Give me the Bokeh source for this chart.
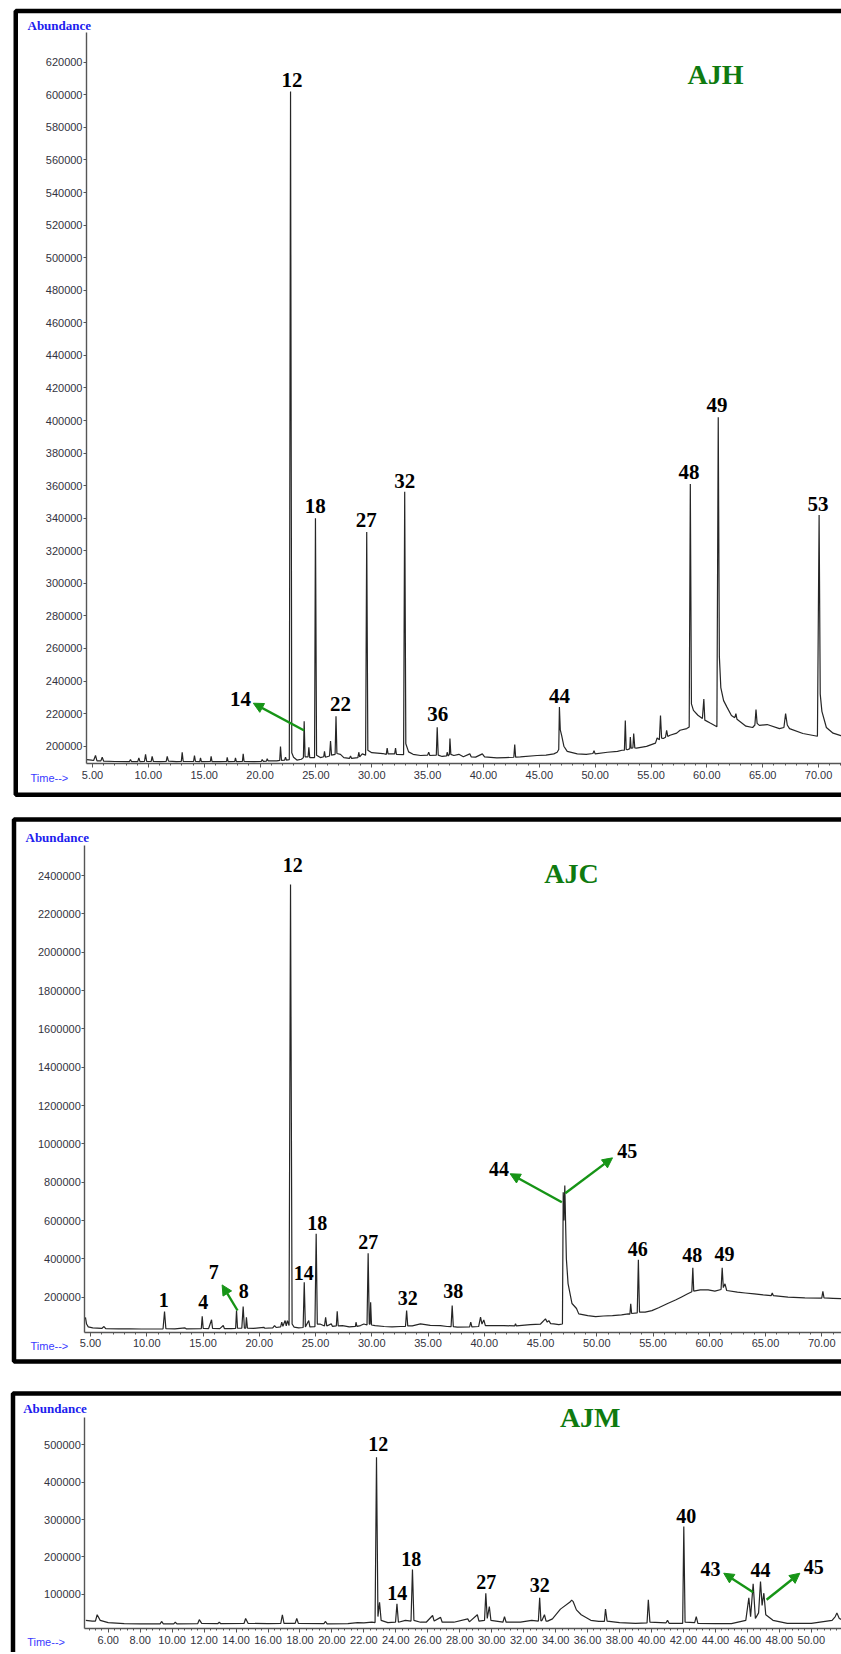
from bokeh.plotting import figure
from bokeh.layouts import column
from bokeh.models import (LinearAxis, FixedTicker, SingleIntervalTicker, PrintfTickFormatter,
                          NumeralTickFormatter, Range1d, Label, Arrow, NormalHead)
from bokeh.core.properties import value
from bokeh.embed import file_html
from bokeh.resources import INLINE

# ---------------------------------------------------------------- data: AJH
ajh_time = [4.50, 4.90, 5.10, 5.27, 5.40, 5.75, 5.87, 6.00, 7.00, 8.30, 8.40, 8.50, 9.05, 9.15, 9.25,
            9.65, 9.75, 9.85, 10.25, 10.34, 10.45, 11.10, 11.60, 11.69, 11.80, 12.50, 12.95, 13.03,
            13.12, 14.05, 14.13, 14.22, 14.60, 14.67, 14.75, 15.55, 15.62, 15.70, 16.40, 17.00, 17.06,
            17.14, 17.73, 17.80, 17.88, 18.42, 18.49, 18.57, 19.40, 20.12, 20.19, 20.30, 20.57, 20.64,
            20.72, 21.50, 21.76, 21.83, 21.92, 22.20, 22.28, 22.36, 22.62, 22.73, 22.84, 23.00, 23.30,
            23.70, 23.88, 23.95, 24.03, 24.30, 24.37, 24.45, 24.88, 24.96, 25.06, 25.40, 25.70, 25.77,
            25.85, 26.22, 26.31, 26.40, 26.72, 26.80, 26.88, 27.20, 27.50, 28.00, 28.10, 28.20, 28.76,
            28.84, 28.92, 29.15, 29.45, 29.55, 29.65, 30.00, 30.50, 31.00, 31.30, 31.38, 31.46, 32.05,
            32.13, 32.21, 32.85, 32.95, 33.05, 33.30, 33.70, 34.37, 35.00, 35.10, 35.20, 35.78, 35.86,
            35.95, 36.30, 36.70, 36.75, 36.85, 36.95, 37.00, 37.08, 37.35, 37.80, 38.20, 38.78, 38.90,
            39.30, 39.90, 40.10, 41.20, 42.00, 42.72, 42.80, 42.88, 43.30, 44.80, 45.60, 46.30, 46.60,
            46.74, 46.80, 46.88, 47.00, 47.20, 47.50, 48.40, 49.20, 49.80, 49.90, 50.00, 51.10, 52.00,
            52.40, 52.62, 52.70, 52.78, 52.90, 53.10, 53.15, 53.22, 53.38, 53.45, 53.55, 53.70, 54.60,
            55.40, 55.55, 55.75, 55.85, 55.95, 56.10, 56.30, 56.40, 56.50, 56.70, 57.30, 57.60, 58.20,
            58.42, 58.52, 58.62, 58.80, 59.20, 59.60, 59.73, 59.82, 60.30, 60.90, 61.02, 61.12, 61.25,
            61.50, 61.80, 62.20, 62.50, 62.60, 62.70, 63.50, 64.10, 64.30, 64.40, 64.50, 64.70, 65.40,
            66.50, 66.90, 67.05, 67.20, 67.40, 68.60, 69.90, 70.05, 70.15, 70.30, 70.70, 71.30, 72.00,
            72.80]
ajh_abund = [191800, 191500, 191200, 194300, 191000, 191000, 193200, 190800, 190600, 190500, 191800,
             190500, 190500, 192800, 190500, 190600, 195000, 190700, 190600, 193700, 190600, 190500,
             190700, 193700, 190800, 190500, 190600, 196300, 190600, 190700, 194300, 190600, 190500,
             192800, 190500, 190600, 193700, 190500, 190500, 190600, 193200, 190500, 190600, 192800,
             190500, 190600, 195300, 190600, 190500, 190700, 191800, 190700, 190800, 192300, 191000,
             191000, 191300, 199800, 191300, 191500, 193200, 191500, 191800, 602000, 196000, 193200,
             191500, 192000, 193000, 215300, 193500, 193500, 199400, 193000, 193000, 340000, 194500,
             193000, 193500, 196800, 193200, 194000, 203100, 194500, 195000, 218400, 195500, 195000,
             193000, 192500, 194000, 192500, 193000, 196300, 193500, 195300, 194500, 331600, 197500,
             196000, 195800, 195500, 195000, 198800, 195300, 195300, 198800, 195000, 194800, 356200,
             201500, 196500, 195000, 194300, 194500, 196300, 194300, 194500, 211700, 194500, 193700,
             194000, 196300, 194000, 195000, 204700, 195000, 194300, 195000, 193500, 195300, 193500,
             193300, 195300, 193500, 192800, 193000, 193200, 201000, 193300, 193500, 194300, 194500,
             195300, 196300, 198000, 224000, 210000, 206700, 200000, 196800, 195300, 195000, 195500,
             197300, 195300, 196300, 196800, 197500, 197500, 215800, 198000, 197800, 198500, 205700,
             198800, 199000, 207800, 199000, 198800, 199900, 201900, 205000, 204000, 218900, 205000,
             204700, 205500, 209800, 206000, 206700, 208000, 209800, 210800, 211800, 361000, 226000,
             222000, 219000, 217000, 228900, 216000, 214200, 212000, 402000, 255000, 236000, 228000,
             224000, 218900, 217500, 220000, 216500, 212300, 211500, 213000, 222500, 214000, 212800,
             213300, 210800, 211500, 220000, 213000, 210800, 207800, 206100, 342000, 232000, 221400,
             211500, 208000, 206500, 205500]
ajh_labels = ["12", "14", "18", "22", "27", "32", "36", "44", "48", "49", "53"]
ajh_label_time = [22.86, 18.25, 24.95, 27.20, 29.50, 32.95, 35.90, 46.80, 58.40, 60.90, 69.95]
ajh_label_abund = [609000, 228700, 347500, 226200, 339000, 363000, 220000, 231100, 368500, 409400, 349000]
ajh_arrows = [(23.95, 209600, 19.40, 226400)]
ajh_yticks = [200000, 220000, 240000, 260000, 280000, 300000, 320000, 340000, 360000, 380000, 400000,
              420000, 440000, 460000, 480000, 500000, 520000, 540000, 560000, 580000, 600000, 620000]

# ---------------------------------------------------------------- data: AJC
ajc_time = [4.55, 4.65, 4.80, 5.20, 6.00, 6.20, 6.35, 7.50, 8.50, 9.50, 10.50, 11.45, 11.58, 11.70,
            12.50, 13.40, 13.50, 14.85, 14.93, 15.02, 15.50, 15.76, 15.85, 16.50, 16.80, 16.90, 17.50,
            17.90, 17.98, 18.07, 18.45, 18.57, 18.68, 18.80, 18.86, 18.95, 19.50, 20.40, 20.50, 21.20,
            21.36, 21.50, 21.90, 22.00, 22.10, 22.30, 22.40, 22.50, 22.65, 22.78, 22.92, 23.10, 23.50,
            23.90, 24.00, 24.10, 24.40, 24.50, 24.95, 25.06, 25.16, 25.40, 25.80, 25.90, 26.00, 26.40,
            26.50, 26.85, 26.93, 27.02, 27.40, 28.00, 28.55, 28.60, 28.68, 29.00, 29.30, 29.58, 29.68,
            29.78, 29.85, 29.90, 29.98, 30.30, 31.10, 31.80, 32.55, 33.00, 33.10, 33.20, 33.60, 34.33,
            35.20, 36.10, 36.70, 37.05, 37.15, 37.25, 37.60, 38.70, 38.80, 38.90, 39.50, 39.67, 39.80,
            39.96, 40.10, 40.56, 41.74, 42.70, 42.78, 42.86, 44.10, 45.00, 45.44, 45.60, 45.74, 45.90,
            46.18, 46.63, 46.95, 47.02, 47.09, 47.16, 47.30, 47.45, 47.80, 48.20, 48.40, 49.20, 49.90,
            50.60, 51.40, 52.20, 52.80, 52.95, 53.02, 53.10, 53.60, 53.70, 53.80, 54.30, 54.90, 55.50,
            56.30, 57.00, 57.50, 58.00, 58.45, 58.54, 58.62, 59.20, 59.90, 60.50, 61.05, 61.15, 61.25,
            61.40, 61.55, 62.50, 63.20, 64.00, 64.80, 65.50, 65.60, 65.70, 67.00, 68.50, 70.00, 70.10,
            70.20, 71.00, 71.80, 72.80]
ajc_abund = [95000, 60000, 45000, 40000, 37000, 47000, 36000, 35000, 34500, 34000, 34000, 35000,
             125000, 36000, 35000, 40000, 35000, 36000, 100000, 37000, 36500, 82000, 37000, 36000,
             52000, 36500, 36000, 37000, 130000, 38000, 38000, 151000, 38000, 39000, 95600, 39000,
             37000, 43000, 38000, 40000, 52000, 42000, 45000, 69500, 48000, 78000, 50000, 78000, 52000,
             2353000, 60000, 43500, 40000, 42000, 278000, 45000, 78000, 45000, 46000, 531000, 60000,
             60000, 50000, 95600, 50000, 61000, 48000, 50000, 127000, 50000, 52000, 45000, 48000, 69500,
             48000, 52000, 60000, 55000, 429600, 60000, 60000, 174000, 55000, 52000, 47000, 45000, 47000,
             48000, 130000, 50000, 50000, 61000, 52600, 52000, 47000, 46000, 157000, 46000, 43500, 45000,
             69500, 45000, 47000, 95600, 60000, 81700, 52000, 52000, 52000, 50000, 61000, 50000, 57000,
             60000, 87000, 70000, 78000, 62000, 61000, 57000, 60000, 748000, 600000, 783000, 400000,
             271000, 167000, 141000, 113000, 104000, 99000, 102000, 104000, 108000, 113000, 112000,
             165000, 115000, 118000, 395000, 122000, 122000, 130000, 145000, 167000, 185000, 200000,
             215000, 228000, 353000, 232000, 238000, 238000, 232000, 240000, 353000, 250000, 270000,
             235000, 226000, 222000, 217000, 212000, 208000, 222000, 208000, 200000, 196000, 195000,
             231000, 196000, 194000, 192000, 191000]
ajc_labels = ["12", "1", "4", "7", "8", "14", "18", "27", "32", "38", "44", "45", "46", "48", "49"]
ajc_label_time = [22.98, 11.52, 15.02, 15.96, 18.63, 23.96, 25.15, 29.68, 33.20, 37.24, 41.30, 52.70,
                  53.65, 58.48, 61.36]
ajc_label_abund = [2452600, 186400, 174000, 330400, 231300, 325200, 586100, 487000, 197000, 231000,
                   870000, 965400, 448900, 422800, 426400]
ajc_arrows = [(18.07, 130600, 16.70, 264000), (46.90, 695700, 42.30, 844000),
              (47.20, 742600, 51.40, 927000)]
ajc_yticks = [200000, 400000, 600000, 800000, 1000000, 1200000, 1400000, 1600000, 1800000, 2000000,
              2200000, 2400000]

# ---------------------------------------------------------------- data: AJM
ajm_time = [4.60, 5.00, 5.20, 5.31, 5.50, 6.00, 7.00, 8.00, 9.25, 9.34, 9.45, 10.10, 10.20, 10.30,
            11.60, 11.70, 11.85, 12.85, 12.95, 13.05, 14.50, 14.60, 14.75, 16.00, 16.80, 16.90, 17.00,
            17.70, 17.80, 17.90, 19.50, 19.60, 19.70, 21.00, 21.60, 22.00, 22.50, 22.70, 22.79, 22.88,
            22.98, 23.08, 23.50, 23.98, 24.07, 24.16, 24.60, 24.95, 25.04, 25.13, 25.54, 25.90, 26.30,
            26.40, 26.80, 26.90, 27.63, 28.50, 28.60, 29.10, 29.20, 29.55, 29.63, 29.72, 29.85, 29.95,
            30.70, 30.80, 30.90, 31.80, 32.50, 32.92, 33.00, 33.08, 33.15, 33.30, 33.40, 33.50, 33.80,
            34.30, 34.90, 35.00, 35.10, 35.30, 35.60, 36.20, 36.70, 37.05, 37.12, 37.22, 38.00, 39.00,
            39.72, 39.80, 39.90, 40.90, 41.00, 41.10, 41.95, 42.02, 42.10, 42.70, 42.80, 42.90, 44.00,
            45.00, 45.90, 46.09, 46.20, 46.36, 46.50, 46.70, 46.82, 46.92, 47.03, 47.15, 47.60, 48.50,
            50.00, 51.30, 51.50, 51.60, 51.75, 52.00, 52.40]
ajm_abund = [30000, 28000, 28000, 45000, 30000, 24000, 21000, 20500, 20500, 27000, 20500, 20500, 25000,
             20500, 21000, 32000, 22000, 21000, 25000, 21000, 21500, 35000, 22000, 21000, 22000, 45000,
             22000, 22000, 35000, 22000, 21000, 27000, 20500, 21000, 24000, 23000, 25000, 24000, 466800,
             40000, 78600, 30000, 24000, 25000, 74300, 25000, 30000, 28000, 166000, 30000, 25000, 25000,
             43000, 28000, 38000, 25000, 25000, 34000, 26000, 45000, 28000, 30000, 102700, 35000, 67000,
             30000, 25000, 40000, 25000, 25000, 30000, 28000, 90300, 28000, 30000, 45000, 28000, 28000,
             34000, 60000, 79000, 84000, 80000, 58000, 45000, 30000, 27000, 27000, 60000, 28000, 24000,
             22000, 23000, 85000, 25000, 23000, 30000, 22000, 22000, 281000, 25000, 24000, 40000, 22000,
             21000, 21000, 30000, 90300, 40000, 127800, 35000, 50000, 134000, 70000, 102700, 45000,
             30000, 22000, 22000, 30000, 40000, 50000, 35000, 30000, 29000]
ajm_labels = ["12", "14", "18", "27", "32", "40", "43", "44", "45"]
ajm_label_time = [22.90, 24.09, 24.96, 29.65, 33.00, 42.17, 43.69, 46.82, 50.15]
ajm_label_abund = [502700, 102700, 194800, 132100, 123300, 310700, 168000, 165300, 172300]
ajm_arrows = [(46.36, 105400, 44.52, 156200), (47.20, 85000, 49.28, 156200)]
ajm_yticks = [100000, 200000, 300000, 400000, 500000]

# ---------------------------------------------------------------- layout (page pixels, page starts at 0,0)
W = 841
GREEN_TXT = "#0f7a0f"
GREEN_ARR = "#169416"
SERIF = "Liberation Serif"
SANS = "Liberation Sans"

panels = [
    dict(title="AJH", top=0, height=806, x0=92.0, t0=5.0, sx=11.17, y0=745.7, v0=200000, sy=32.57 / 20000,
         bx=15.25, btop=10.5, bbot=794.3, yaxis_x=86.0, yaxis_top=32.0, xaxis_y=763.3,
         abund_xy=(27, 25), time_xy=(30, 777.5), title_xy=(715, 74.2), label_size="21px",
         xint=5, time=ajh_time, abund=ajh_abund, labels=ajh_labels, lt=ajh_label_time,
         lv=ajh_label_abund, arrows=ajh_arrows, yticks=ajh_yticks),
    dict(title="AJC", top=806, height=570, x0=90.0, t0=5.0, sx=11.25, y0=1296.7, v0=200000, sy=38.33 / 200000,
         bx=13.5, btop=819.0, bbot=1361.0, yaxis_x=84.3, yaxis_top=845.0, xaxis_y=1331.7,
         abund_xy=(25, 837), time_xy=(30, 1345), title_xy=(571, 873), label_size="20px",
         xint=5, time=ajc_time, abund=ajc_abund, labels=ajc_labels, lt=ajc_label_time,
         lv=ajc_label_abund, arrows=ajc_arrows, yticks=ajc_yticks),
    dict(title="AJM", top=1376, height=276, x0=107.7, t0=6.0, sx=15.98, y0=1593.7, v0=100000, sy=37.35 / 100000,
         bx=12.5, btop=1393.0, bbot=1700.0, yaxis_x=84.3, yaxis_top=1417.3, xaxis_y=1628.3,
         abund_xy=(22.7, 1407.7), time_xy=(26.7, 1641), title_xy=(589.7, 1416.7), label_size="20px",
         xint=2, time=ajm_time, abund=ajm_abund, labels=ajm_labels, lt=ajm_label_time,
         lv=ajm_label_abund, arrows=ajm_arrows, yticks=ajm_yticks),
]


def make_panel(c):
    def tx(xp):
        return c["t0"] + (xp - c["x0"]) / c["sx"]

    def vy(yp):
        return c["v0"] + (c["y0"] - yp) / c["sy"]

    H = c["height"]
    p = figure(width=W, height=H, x_range=Range1d(tx(0), tx(W)),
               y_range=Range1d(vy(c["top"] + H), vy(c["top"])),
               x_axis_location=None, y_axis_location=None, toolbar_location=None,
               output_backend="svg", min_border=0, outline_line_color=None,
               background_fill_color="white", border_fill_color="white")
    p.grid.visible = False

    # thick panel frame (right side is cut off like the source)
    p.quad(left=[tx(c["bx"])], right=[tx(900)], top=[vy(c["btop"])], bottom=[vy(c["bbot"])],
           fill_color=None, line_color="black", line_width=4.5)

    yax = LinearAxis(fixed_location=tx(c["yaxis_x"]), bounds=(vy(c["xaxis_y"]), vy(c["yaxis_top"])),
                     ticker=FixedTicker(ticks=c["yticks"], minor_ticks=[]),
                     formatter=NumeralTickFormatter(format="0"),
                     axis_line_color="#555555", axis_line_width=1.4,
                     major_tick_line_color="#555555", major_tick_in=0, major_tick_out=3,
                     minor_tick_line_color=None, major_label_standoff=1,
                     major_label_text_font=SANS, major_label_text_font_size="11px",
                     major_label_text_color="#333340")
    p.add_layout(yax, "left")

    xax = LinearAxis(fixed_location=vy(c["xaxis_y"]), bounds=(tx(c["yaxis_x"]), tx(900)),
                     ticker=SingleIntervalTicker(interval=c["xint"], num_minor_ticks=5),
                     formatter=PrintfTickFormatter(format="%.2f"),
                     axis_line_color="#555555", axis_line_width=1.4,
                     major_tick_line_color="#555555", major_tick_in=0, major_tick_out=4,
                     minor_tick_line_color="#555555", minor_tick_in=0, minor_tick_out=2,
                     major_label_standoff=3, major_label_text_font=SANS,
                     major_label_text_font_size="11px", major_label_text_color="#333340")
    p.add_layout(xax, "below")

    p.line(c["time"], c["abund"], line_color="#262626", line_width=1.2)

    p.text(x=c["lt"], y=c["lv"], text=c["labels"], text_font=value(SERIF), text_font_style="bold",
           text_font_size=c["label_size"], text_align="center", text_baseline="middle",
           text_color="black")

    for (x0, y0, x1, y1) in c["arrows"]:
        p.add_layout(Arrow(end=NormalHead(size=10, fill_color=GREEN_ARR, line_color=GREEN_ARR),
                           x_start=x0, y_start=y0, x_end=x1, y_end=y1,
                           line_color=GREEN_ARR, line_width=2.4))

    ax, ay = c["abund_xy"]
    p.add_layout(Label(x=tx(ax), y=vy(ay), text="Abundance", text_font=SERIF, text_font_style="bold",
                       text_font_size="13px", text_color="#2020ee", text_align="left",
                       text_baseline="middle"))
    tx_, ty_ = c["time_xy"]
    p.add_layout(Label(x=tx(tx_), y=vy(ty_), text="Time-->", text_font=SANS,
                       text_font_size="11px", text_color="#3a3aff", text_align="left",
                       text_baseline="middle"))
    hx, hy = c["title_xy"]
    p.add_layout(Label(x=tx(hx), y=vy(hy), text=c["title"], text_font=SERIF, text_font_style="bold",
                       text_font_size="28px", text_color=GREEN_TXT, text_align="center",
                       text_baseline="middle"))
    return p


figs = [make_panel(c) for c in panels]
layout = column(*figs, spacing=0)
open("out.html", "w").write(file_html(layout, INLINE))
